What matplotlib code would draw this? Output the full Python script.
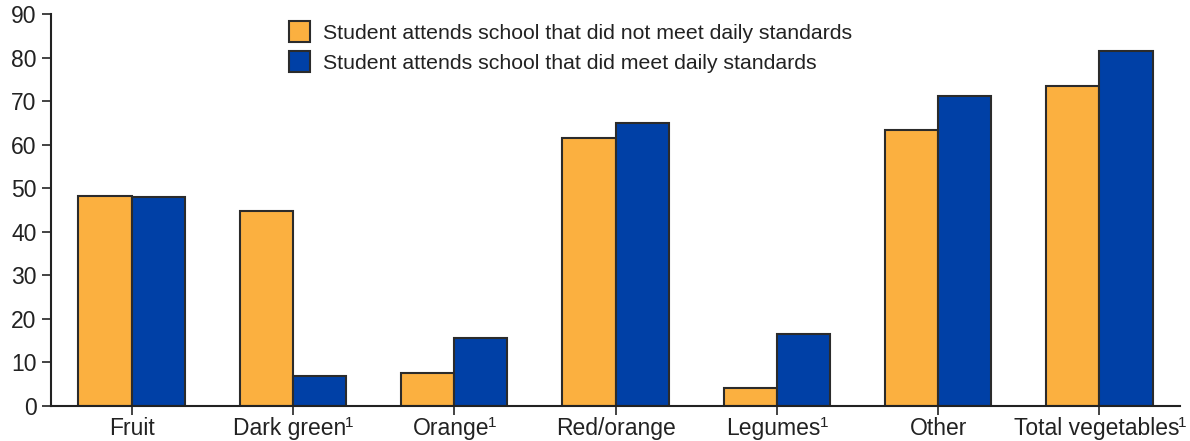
import numpy as np
import matplotlib.pyplot as plt

plt.rcParams['font.family'] = ['Liberation Sans', 'DejaVu Sans']

# 数据
categories = ['Fruit', 'Dark green', 'Orange', 'Red/orange',
              'Legumes', 'Other', 'Total vegetables']
footnote = ['', '1', '1', '', '1', '', '1']
not_met = [48.3, 44.7, 7.6, 61.5, 4.1, 63.3, 73.4]
met = [47.9, 6.9, 15.7, 65.1, 16.6, 71.1, 81.5]
labels = ['Student attends school that did not meet daily standards',
          'Student attends school that did meet daily standards']

orange = '#FBB040'
blue = '#0040A6'
edge = '#2b2b2b'
txt = '#222222'

fig = plt.figure(figsize=(11.9, 4.41), dpi=100)
ax = fig.add_axes([0.0429, 0.0794, 0.9487, 0.8886])

x = np.arange(len(categories))
w = 0.33
ax.bar(x - w / 2, not_met, w, color=orange, edgecolor=edge, linewidth=1.5, label=labels[0])
ax.bar(x + w / 2, met, w, color=blue, edgecolor=edge, linewidth=1.5, label=labels[1])

ax.set_xlim(-0.5, 6.5)
ax.set_ylim(0, 90)
ax.set_yticks(range(0, 91, 10))
ax.set_xticks(x)

for s in ['top', 'right']:
    ax.spines[s].set_visible(False)
for s in ['left', 'bottom']:
    ax.spines[s].set_linewidth(1.5)
    ax.spines[s].set_color(txt)

ax.tick_params(axis='both', labelsize=16.5, length=6.5, width=1.2, color=txt, labelcolor=txt)
ax.tick_params(axis='x', labelbottom=False)
ax.tick_params(axis='y', pad=4)

# x轴标签（带上标脚注）
cat_texts = []
for xi, cat, fn in zip(x, categories, footnote):
    dx = -3.0 if fn else 0
    t = ax.annotate(cat, xy=(xi, 0), xycoords=('data', 'axes fraction'),
                    xytext=(dx, -11), textcoords='offset pixels',
                    ha='center', va='top', fontsize=16.5, color=txt)
    cat_texts.append(t)

ax.legend(loc='upper left', bbox_to_anchor=(0.194, 1.03), frameon=False, fontsize=15.3,
          handlelength=1.0, handleheight=1.1, handletextpad=0.6, labelspacing=0.4,
          labelcolor=txt)

fig.canvas.draw()
inv = fig.transFigure.inverted()
for t, fn in zip(cat_texts, footnote):
    if fn:
        bb = t.get_window_extent()
        px, py = inv.transform((bb.x1 - 1.5, bb.y1 + 1))
        fig.text(px, py, fn, fontsize=11, color=txt, ha='left', va='top')

plt.savefig('out.png', dpi=100)
